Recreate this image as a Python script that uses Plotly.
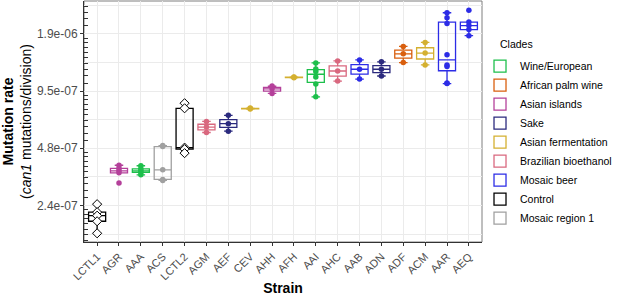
import numpy as np
import plotly.graph_objects as go

strains = ["LCTL1", "AGR", "AAA", "ACS", "LCTL2", "AGM", "AEF", "CEV", "AHH",
           "AFH", "AAI", "AHC", "AAB", "ADN", "ADF", "ACM", "AAR", "AEQ"]
strain_clade = ["Control", "Asian islands", "Wine/European", "Mosaic region 1", "Control",
                "Brazilian bioethanol", "Sake", "Asian fermentation", "Asian islands",
                "Asian fermentation", "Wine/European", "Brazilian bioethanol", "Mosaic beer",
                "Sake", "African palm wine", "Asian fermentation", "Mosaic beer", "Mosaic beer"]
rates = [
    [2.42e-7, 2.196e-7, 2.105e-7, 1.967e-7, 1.700e-7],                          # LCTL1
    [3.879e-7, 3.738e-7, 3.626e-7, 3.538e-7, 3.131e-7],                         # AGR
    [3.855e-7, 3.715e-7, 3.626e-7, 3.560e-7, 3.452e-7],                         # AAA
    [4.923e-7, 4.862e-7, 3.669e-7, 3.268e-7, 3.228e-7],                         # ACS
    [8.228e-7, 7.736e-7, 4.804e-7, 4.716e-7, 4.492e-7],                         # LCTL2
    [6.600e-7, 6.158e-7, 5.770e-7],                                             # AGM
    [7.102e-7, 6.418e-7, 5.862e-7],                                             # AEF
    [7.76e-7, 7.71e-7, 7.66e-7],                                                # CEV
    [1.0123e-6, 9.796e-7, 9.262e-7],                                            # AHH
    [1.132e-6, 1.126e-6, 1.120e-6],                                             # AFH
    [1.341e-6, 1.246e-6, 1.209e-6, 1.130e-6, 1.0375e-6, 8.885e-7],              # AAI
    [1.374e-6, 1.216e-6, 1.076e-6],                                             # AHC
    [1.391e-6, 1.242e-6, 1.103e-6],                                             # AAB
    [1.358e-6, 1.242e-6, 1.144e-6],                                             # ADN
    [1.637e-6, 1.497e-6, 1.346e-6],                                             # ADF
    [1.719e-6, 1.510e-6, 1.309e-6],                                             # ACM
    [2.463e-6, 2.316e-6, 2.160e-6, 1.479e-6, 1.309e-6, 1.282e-6, 1.050e-6, 1.044e-6],  # AAR
    [2.542e-6, 2.201e-6, 2.109e-6, 2.008e-6, 1.866e-6],                         # AEQ
]

clades = ["Wine/European", "African palm wine", "Asian islands", "Sake", "Asian fermentation",
          "Brazilian bioethanol", "Mosaic beer", "Control", "Mosaic region 1"]
clade_colors = ["#1DBF4B", "#D95F0E", "#B4409A", "#2B2A7E", "#D4B030",
                "#D9687F", "#2C2CE6", "#000000", "#A0A0A0"]

y_tick_vals = [2.0 ** -22, 2.0 ** -21, 2.0 ** -20, 2.0 ** -19]
y_tick_text = ["2.4e-07", "4.8e-07", "9.5e-07", "1.9e-06"]
y_range = [1.53e-7, 2.84e-6]


def box_stats(vals):
    lv = np.log2(np.asarray(vals, dtype=float))
    q1, med, q3 = np.percentile(lv, [25, 50, 75])
    iqr = q3 - q1
    lo = lv[lv >= q1 - 1.5 * iqr].min()
    hi = lv[lv <= q3 + 1.5 * iqr].max()
    return [2 ** q1, 2 ** med, 2 ** q3, 2 ** lo, 2 ** hi]


fig = go.Figure()

for clade, col in zip(clades, clade_colors):
    idx = [i for i, c in enumerate(strain_clade) if c == clade]
    xs = [strains[i] for i in idx]
    st = [box_stats(rates[i]) for i in idx]
    fig.add_trace(go.Box(
        x=xs, q1=[s[0] for s in st], median=[s[1] for s in st], q3=[s[2] for s in st],
        lowerfence=[s[3] for s in st], upperfence=[s[4] for s in st],
        name=clade, legendgroup=clade, boxpoints=False, width=0.78,
        line=dict(color=col, width=1.3), fillcolor="rgba(255,255,255,0)",
        hoverinfo="skip"))
    px, py = [], []
    for i in idx:
        px += [strains[i]] * len(rates[i])
        py += rates[i]
    if clade == "Control":
        mk = dict(symbol="diamond", size=7, color="white", line=dict(color="black", width=1))
    else:
        mk = dict(symbol="circle", size=5.5, color=col)
    fig.add_trace(go.Scatter(x=px, y=py, mode="markers", marker=mk, showlegend=False,
                             legendgroup=clade, hoverinfo="skip"))

# empty trace to carry the overlay axis for minor log ticks
fig.add_trace(go.Scatter(x=[], y=[], yaxis="y2", showlegend=False, hoverinfo="skip"))

half_oct = [2.0 ** (k + 0.5) for k in range(-23, -18)]
lin_minor = []
for k in range(-23, -18):
    for j in range(1, 10):
        v = 2.0 ** k * (1 + j / 10)
        if y_range[0] < v < y_range[1]:
            lin_minor.append(v)

yr = [np.log10(y_range[0]), np.log10(y_range[1])]

fig.update_layout(
    width=617, height=296,
    margin=dict(l=84, r=135, t=1, b=54, autoexpand=False),
    plot_bgcolor="white", paper_bgcolor="white",
    boxmode="overlay",
    font=dict(family="Liberation Sans, Arial, sans-serif", color="#4D4D4D"),
    showlegend=True,
    legend=dict(x=0.995, xanchor="left", y=0.79, yanchor="top",
                font=dict(size=10.5, color="black"), tracegroupgap=0, itemwidth=30,
                bgcolor="rgba(0,0,0,0)"),
    annotations=[dict(text="Clades", xref="paper", yref="paper", x=1.04, y=0.822,
                      xanchor="left", yanchor="middle", showarrow=False,
                      font=dict(size=10.5, color="black"))],
    xaxis=dict(type="category", categoryorder="array", categoryarray=strains,
               range=[-0.6, 17.6], tickangle=-45, ticks="outside", ticklen=3,
               tickcolor="#333333", showgrid=True, gridcolor="#EBEBEB",
               showline=True, linecolor="#333333", linewidth=1,
               tickfont=dict(size=11, color="#4D4D4D"),
               title=dict(text="<b>Strain</b>", font=dict(size=14, color="black"), standoff=2),
               automargin=False, zeroline=False),
    yaxis=dict(type="log", range=yr, tickvals=y_tick_vals, ticktext=y_tick_text,
               ticks="outside", ticklen=3, tickcolor="#333333",
               showgrid=True, gridcolor="#EBEBEB",
               minor=dict(tickvals=half_oct, showgrid=True, gridcolor="#EBEBEB", ticks=""),
               showline=True, linecolor="#333333", linewidth=1,
               tickfont=dict(size=12, color="#4D4D4D"),
               title=dict(text="<b>Mutation rate</b><br>(<i>can1</i> mutations/division)",
                          font=dict(size=14, color="black"), standoff=10),
               automargin=False, zeroline=False),
    yaxis2=dict(type="log", range=yr, overlaying="y", side="left", anchor="x",
                tickvals=lin_minor, ticks="inside", ticklen=4, tickcolor="#333333",
                showticklabels=False, showgrid=False, showline=False, zeroline=False),
    shapes=[dict(type="rect", xref="paper", yref="paper", x0=0, x1=1, y0=0, y1=1,
                 line=dict(color="#7F7F7F", width=1), layer="between")],
)

fig.write_html("out.html", config={"displayModeBar": False},
               post_script="document.body.style.margin='0';document.body.style.padding='0';")
